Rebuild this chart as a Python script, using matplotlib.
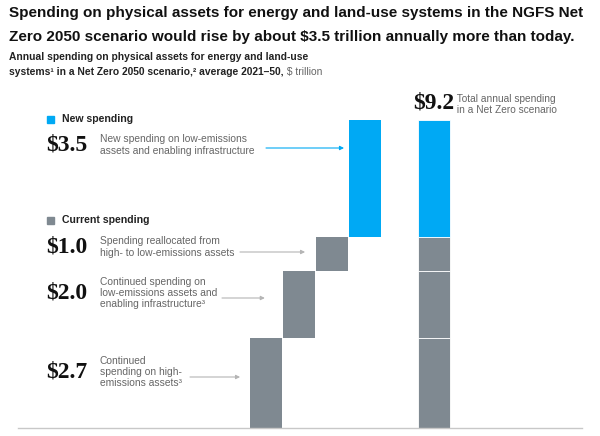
import matplotlib
matplotlib.use("Agg")
import matplotlib.pyplot as plt
import numpy as np

# data
values = [2.7, 2.0, 1.0, 3.5]
kinds = ["current", "current", "current", "new"]
amounts = ["$2.7", "$2.0", "$1.0", "$3.5"]
labels = [
    "Continued\nspending on high-\nemissions assets\u00b3",
    "Continued spending on\nlow-emissions assets and\nenabling infrastructure\u00b3",
    "Spending reallocated from\nhigh- to low-emissions assets",
    "New spending on low-emissions\nassets and enabling infrastructure",
]
total = sum(values)
total_label = "$%.1f" % total

BLUE = "#00A9F4"
GRAY = "#7F8991"
TXT = "#222222"
SOFT = "#666666"
colors = {"new": BLUE, "current": GRAY}

W, H = 600, 436
fig = plt.figure(figsize=(W / 100, H / 100), dpi=100)
SANS = "Liberation Sans"
SERIF = "Liberation Serif"


def px(x, y):
    return x / W, 1 - y / H


# axes for the bars
ax = fig.add_axes([18 / W, 8 / H, 564 / W, 308 / H])
ax.set_xlim(-7.515, 9.576)
ax.set_ylim(0, 9.2)
for s in ["top", "right", "left"]:
    ax.spines[s].set_visible(False)
ax.spines["bottom"].set_color("#c8c8c8")
ax.spines["bottom"].set_linewidth(1)
ax.set_xticks([])
ax.set_yticks([])

bw = 0.97
bottoms = np.concatenate([[0], np.cumsum(values)[:-1]])
xs = np.arange(len(values))
for x, v, b, k in zip(xs, values, bottoms, kinds):
    ax.bar(x, v, bottom=b, width=bw, color=colors[k], linewidth=0)

# total stacked bar
xt = 5.1
for v, b, k in zip(values, bottoms, kinds):
    ax.bar(xt, v, bottom=b, width=bw, color=colors[k], edgecolor="white", linewidth=0.6)

# title
fig.text(*px(9, 13), "Spending on physical assets for energy and land-use systems in the NGFS Net",
         fontsize=11, fontweight="bold", family=SANS, color="#111111", va="center")
fig.text(*px(9, 37), "Zero 2050 scenario would rise by about $3.5 trillion annually more than today.",
         fontsize=11, fontweight="bold", family=SANS, color="#111111", va="center")

# subtitle
fig.text(*px(9, 57), "Annual spending on physical assets for energy and land-use",
         fontsize=7.35, fontweight="bold", family=SANS, color=TXT, va="center")
sub2 = fig.text(*px(9, 72), "systems\u00b9 in a Net Zero 2050 scenario,\u00b2 average 2021\u201350,",
                fontsize=7.35, fontweight="bold", family=SANS, color=TXT, va="center")
ax.annotate(" $ trillion", xy=(1, 0.5), xycoords=sub2, va="center", ha="left",
            fontsize=7.35, family=SANS, color=SOFT, annotation_clip=False)

# legend-like headers
fig.patches.append(plt.Rectangle(px(47, 123), 7 / W, 7 / H, transform=fig.transFigure,
                                 color=BLUE))
fig.text(*px(62, 119), "New spending", fontsize=7.6, fontweight="bold", family=SANS,
         color=TXT, va="center")
fig.patches.append(plt.Rectangle(px(47, 224), 7 / W, 7 / H, transform=fig.transFigure,
                                 color=GRAY))
fig.text(*px(62, 220), "Current spending", fontsize=7.6, fontweight="bold", family=SANS,
         color=TXT, va="center")

# amounts, descriptions and arrows
amount_y = [372, 293, 247, 145]
arrow_start = [190, 222, 240, 266]
arrow_gap = [0.3, 0.55, 0.33, 0.15]
for i, (a, lab, y) in enumerate(zip(amounts, labels, amount_y)):
    fig.text(*px(46, y), a, fontsize=17, fontweight="bold", family=SERIF, color="#111111",
             va="center", ha="left")
    fig.text(*px(100, y), lab, fontsize=7.35, family=SANS, color=SOFT, va="center",
             ha="left", linespacing=1.15)
    c = BLUE if kinds[i] == "new" else "#b5b5b5"
    ay = H - (y + 3 if kinds[i] == "new" else y + 5)
    ax.annotate("", xy=(xs[i] - bw / 2 - arrow_gap[i], ay), xycoords=("data", "figure pixels"),
                xytext=(arrow_start[i], ay), textcoords="figure pixels",
                arrowprops=dict(arrowstyle="-|>", color=c, lw=0.8, mutation_scale=6,
                                shrinkA=0, shrinkB=0), annotation_clip=False)

# total label
tot = fig.text(*px(413, 103), total_label, fontsize=17, fontweight="bold", family=SERIF,
               color="#111111", va="center", ha="left")
ax.annotate(" Total annual spending\n in a Net Zero scenario", xy=(1, 0.42), xycoords=tot,
            va="center", ha="left", fontsize=7.3, family=SANS, color=SOFT,
            linespacing=1.05, annotation_clip=False)

fig.savefig("out.png", dpi=100)
